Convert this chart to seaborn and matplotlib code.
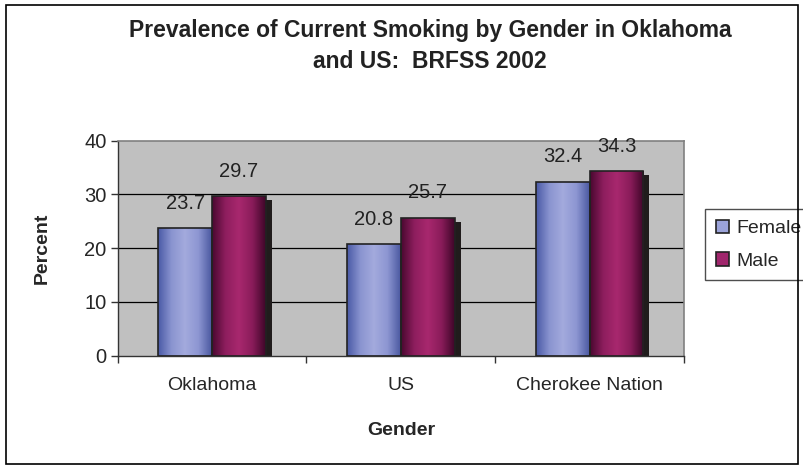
import numpy as np
import pandas as pd
import matplotlib
matplotlib.use("Agg")
import matplotlib.pyplot as plt
import matplotlib.transforms as mtransforms
from matplotlib.colors import LinearSegmentedColormap
from matplotlib.patches import Patch, Rectangle
import seaborn as sns

# data
regions = ["Oklahoma", "US", "Cherokee Nation"]
female = [23.7, 20.8, 32.4]
male = [29.7, 25.7, 34.3]
genders = ["Female", "Male"]

df = pd.DataFrame({
    "region": regions * 2,
    "gender": ["Female"] * 3 + ["Male"] * 3,
    "pct": female + male,
})

sns.set_style("white")
plt.rcParams["font.family"] = ["Liberation Sans", "DejaVu Sans"]

fig = plt.figure(figsize=(8.04, 4.69), dpi=100)
ax = fig.add_axes([0.1464, 0.2416, 0.7043, 0.4584])

mid_cols = {"Female": "#9ba3d9", "Male": "#a0266c"}
sns.barplot(data=df, x="region", y="pct", hue="gender", hue_order=genders,
            palette=mid_cols, width=0.57, ax=ax, legend=False,
            edgecolor="#222222", linewidth=1.2, zorder=3)

ax.set_ylim(0, 40)
ax.set_xlim(-0.5, 2.5)
ax.set_facecolor("#c0c0c0")

# gradient fills like the old excel bars
cmaps = {
    "Female": LinearSegmentedColormap.from_list("f", ["#4a5aa6", "#8a94d0", "#a3aadd", "#8d96d2", "#4a58a0"]),
    "Male": LinearSegmentedColormap.from_list("m", ["#4a0830", "#8e1e5e", "#a8286e", "#8a1c5a", "#3e0628"]),
}
grad = np.linspace(0, 1, 200).reshape(1, -1)
shadow_tr = mtransforms.offset_copy(ax.transData, fig=fig, x=6, y=-4, units="dots")
for cont, g in zip(ax.containers, genders):
    for p in cont:
        x0, y0, w, h = p.get_x(), p.get_y(), p.get_width(), p.get_height()
        ax.add_patch(Rectangle((x0, y0), w, h, facecolor="#201c1c", edgecolor="none",
                               transform=shadow_tr, zorder=1, clip_on=True))
        im = ax.imshow(grad, cmap=cmaps[g], extent=[x0, x0 + w, y0, y0 + h],
                       aspect="auto", zorder=2, interpolation="bilinear")
        im.set_clip_path(p)
        p.set_facecolor("none")
    ax.bar_label(cont, labels=[f"{v:.1f}" for v in cont.datavalues],
                 padding=11, fontsize=14.5, color="#222222")

ax.set_xlim(-0.5, 2.5)
ax.set_ylim(0, 40)

# gridlines and spines
ax.set_yticks([0, 10, 20, 30, 40])
for yv in [10, 20, 30]:
    ax.axhline(yv, color="black", lw=0.9, zorder=0.5)
for s in ["top", "right"]:
    ax.spines[s].set_color("#808080")
    ax.spines[s].set_linewidth(1.2)
for s in ["left", "bottom"]:
    ax.spines[s].set_color("#333333")
    ax.spines[s].set_linewidth(1.0)

ax.tick_params(axis="y", direction="out", length=5, width=1, color="#333333",
               labelsize=14.5, pad=3, left=True)
ax.set_xticks([0, 1, 2])
ax.set_xticklabels(regions)
ax.set_xticks([-0.5, 0.5, 1.5, 2.5], minor=True)
ax.tick_params(axis="x", which="major", length=0, labelsize=14, pad=15)
ax.tick_params(axis="x", which="minor", direction="out", length=5, width=1,
               color="#333333", bottom=True)

ax.set_ylabel("Percent", fontsize=14, fontweight="bold")
ax.set_xlabel("Gender", fontsize=14, fontweight="bold")
ax.yaxis.set_label_coords(-0.118, 0.5)
ax.xaxis.set_label_coords(0.5, -0.31)

fig.text(0.535, 0.936, "Prevalence of Current Smoking by Gender in Oklahoma",
         ha="center", va="center", fontsize=16.5, fontweight="bold", color="#222222")
fig.text(0.535, 0.868, "and US:  BRFSS 2002",
         ha="center", va="center", fontsize=16.5, fontweight="bold", color="#222222")

handles = [Patch(facecolor=mid_cols[g], edgecolor="#222222", lw=1.2, label=g) for g in genders]
leg = ax.legend(handles=handles, loc="upper left", bbox_to_anchor=(0.877, 0.554),
                bbox_transform=fig.transFigure, frameon=True, fancybox=False,
                fontsize=14, handlelength=0.7, handleheight=0.7, handletextpad=0.35,
                borderpad=0.55, labelspacing=0.75, borderaxespad=0)
leg.get_frame().set_edgecolor("#222222")
leg.get_frame().set_linewidth(1.0)

# border around the whole chart
fig.patches.append(Rectangle((0.007, 0.011), 0.986, 0.978, transform=fig.transFigure,
                             fill=False, edgecolor="black", lw=1.2))

fig.savefig("out.png", dpi=100)
